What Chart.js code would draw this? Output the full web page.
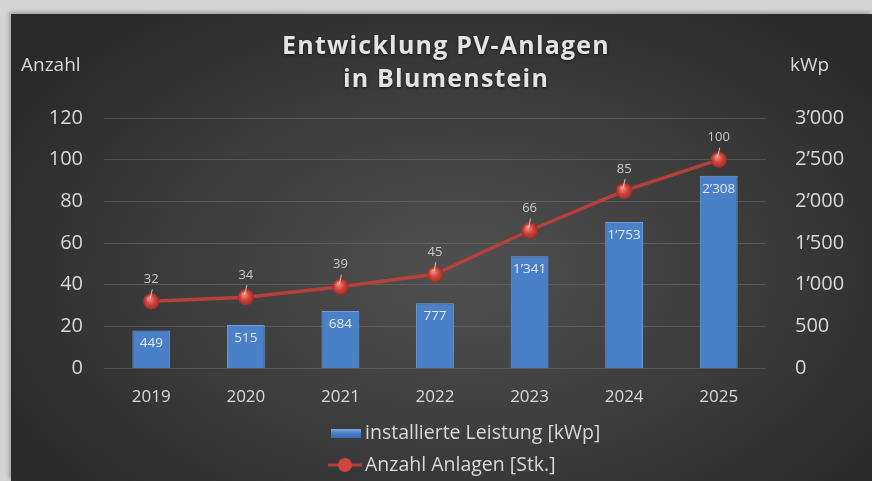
<!DOCTYPE html>
<html>
<head>
<meta charset="utf-8">
<script src="https://cdn.jsdelivr.net/npm/chart.js@4/dist/chart.umd.min.js"></script>
<style>
    html, body { margin: 0; padding: 0; }
    body { width: 872px; height: 481px; background: #d4d4d4; position: relative; overflow: hidden; }
    #panel {
        position: absolute; left: 11px; top: 14px; width: 861px; height: 467px;
        background: radial-gradient(ellipse 60% 70% at 52% 55%, #505050 0%, #3c3c3c 55%, #2a2a2a 100%);
        box-shadow: -2px -2px 4px rgba(0,0,0,0.25);
    }
    #wrap { position: absolute; left: 0; top: 0; width: 872px; height: 481px; }
</style>
</head>
<body>
<div id="panel"></div>
<div id="wrap"><canvas id="myChart" width="872" height="481"></canvas></div>
<script>
var years = ['2019', '2020', '2021', '2022', '2023', '2024', '2025'];
var leistung = [449, 515, 684, 777, 1341, 1753, 2308];
var anlagen = [32, 34, 39, 45, 66, 85, 100];
var titleLines = ['Entwicklung PV-Anlagen', 'in Blumenstein'];
var axisLeftTitle = 'Anzahl';
var axisRightTitle = 'kWp';

var textColor = '#d9d9d9';
var fontFamily = "'Open Sans', sans-serif";

function fmt(v) {
    return String(v).replace(/\B(?=(\d{3})+(?!\d))/g, '\u2019');
}

// title, value labels, axis titles and the two-row legend
var extrasPlugin = {
    id: 'extras',
    afterDatasetsDraw: function (chart) {
        var ctx = chart.ctx;
        ctx.save();

        // title
        ctx.fillStyle = '#e4e4e4';
        ctx.font = 'bold 25px ' + fontFamily;
        ctx.textAlign = 'center';
        ctx.textBaseline = 'middle';
        ctx.letterSpacing = '1.2px';
        ctx.shadowColor = 'rgba(0,0,0,0.6)';
        ctx.shadowBlur = 3;
        ctx.shadowOffsetY = 1;
        ctx.fillText(titleLines[0], 446, 47);
        ctx.fillText(titleLines[1], 446, 80);
        ctx.letterSpacing = '0px';
        ctx.shadowColor = 'transparent';

        // bar labels, inside end
        var barMeta = chart.getDatasetMeta(0);
        ctx.font = '13.5px ' + fontFamily;
        ctx.fillStyle = '#dfe8f4';
        barMeta.data.forEach(function (bar, i) {
            ctx.fillText(fmt(leistung[i]), bar.x, bar.y + 13);
        });

        // line labels above points, with small leader
        var lineMeta = chart.getDatasetMeta(1);
        lineMeta.data.forEach(function (pt, i) {
            ctx.strokeStyle = 'rgba(230,230,230,0.8)';
            ctx.lineWidth = 1;
            ctx.beginPath();
            ctx.moveTo(pt.x - 1, pt.y - 3);
            ctx.lineTo(pt.x + 1, pt.y - 12);
            ctx.stroke();
            ctx.fillStyle = '#c8c8c8';
            ctx.font = '13px ' + fontFamily;
            ctx.fillText(fmt(anlagen[i]), pt.x, pt.y - 22);
        });

        // axis titles
        ctx.fillStyle = textColor;
        ctx.font = '19px ' + fontFamily;
        ctx.textAlign = 'left';
        ctx.fillText(axisLeftTitle, 21, 66);
        ctx.fillText(axisRightTitle, 790, 66);

        // legend
        var lx = 331;
        var ly1 = 433, ly2 = 465;
        var g = ctx.createLinearGradient(0, ly1 - 5, 0, ly1 + 5);
        g.addColorStop(0, '#8fb8ec');
        g.addColorStop(0.5, '#4a80c8');
        g.addColorStop(1, '#3a6cb0');
        ctx.fillStyle = g;
        ctx.fillRect(lx, ly1 - 4, 30, 9);
        ctx.strokeStyle = '#b5403a';
        ctx.lineWidth = 3;
        ctx.beginPath();
        ctx.moveTo(lx - 3, ly2);
        ctx.lineTo(lx + 31, ly2);
        ctx.stroke();
        ctx.fillStyle = '#cc463e';
        ctx.beginPath();
        ctx.arc(lx + 14, ly2, 7, 0, Math.PI * 2);
        ctx.fill();
        ctx.fillStyle = textColor;
        ctx.font = '19.5px ' + fontFamily;
        ctx.fillText(chart.data.datasets[0].label, lx + 34, ly1);
        ctx.fillText(chart.data.datasets[1].label, lx + 34, ly2);
        ctx.restore();
    }
};

var ctx = document.getElementById('myChart').getContext('2d');

function barFill(context) {
    var el = context.element;
    if (!el || el.width === undefined) return '#4a80c8';
    var x0 = el.x - el.width / 2;
    var g = context.chart.ctx.createLinearGradient(x0, 0, x0 + el.width, 0);
    g.addColorStop(0, '#6399de');
    g.addColorStop(0.12, '#4b82ca');
    g.addColorStop(0.88, '#4b82ca');
    g.addColorStop(1, '#3d70b4');
    return g;
}

function pointFill(context) {
    var el = context.element;
    if (!el || el.x === undefined) return '#c8413a';
    var g = context.chart.ctx.createRadialGradient(el.x - 2, el.y - 3, 1, el.x, el.y, 8);
    g.addColorStop(0, '#f08a80');
    g.addColorStop(0.5, '#cf463d');
    g.addColorStop(1, '#a52d27');
    return g;
}

new Chart(ctx, {
    data: {
        labels: years,
        datasets: [{
            type: 'bar',
            label: 'installierte Leistung [kWp]',
            data: leistung,
            yAxisID: 'y1',
            backgroundColor: barFill,
            borderColor: '#6d9fe0',
            borderWidth: 1,
            barPercentage: 0.4,
            categoryPercentage: 1,
            order: 2
        }, {
            type: 'line',
            label: 'Anzahl Anlagen [Stk.]',
            data: anlagen,
            yAxisID: 'y',
            borderColor: '#b8403a',
            borderWidth: 3.5,
            pointRadius: 8,
            pointBackgroundColor: pointFill,
            pointBorderColor: '#9e2e28',
            pointBorderWidth: 0.5,
            tension: 0,
            order: 1
        }]
    },
    options: {
        responsive: false,
        animation: false,
        events: [],
        layout: { padding: { left: 11, top: 118, right: 0, bottom: 0 } },
        plugins: {
            legend: { display: false },
            tooltip: { enabled: false },
            title: { display: false }
        },
        scales: {
            x: {
                grid: { display: false },
                border: { display: false },
                ticks: { color: textColor, font: { family: fontFamily, size: 17 }, padding: 11 },
                afterFit: function (scale) { scale.height = 113; }
            },
            y: {
                position: 'left',
                min: 0,
                max: 120,
                grid: { color: 'rgba(120,120,120,0.45)', lineWidth: 1, drawTicks: false },
                border: { display: false },
                ticks: { stepSize: 20, color: textColor, font: { family: fontFamily, size: 20 }, padding: 21 },
                afterFit: function (scale) { scale.width = 93; }
            },
            y1: {
                position: 'right',
                min: 0,
                max: 3000,
                grid: { display: false },
                border: { display: false },
                ticks: {
                    stepSize: 500,
                    color: textColor,
                    font: { family: fontFamily, size: 20 },
                    padding: 21,
                    callback: function (v) { return fmt(v); }
                },
                afterFit: function (scale) { scale.width = 106; }
            }
        }
    },
    plugins: [extrasPlugin]
});
</script>
</body>
</html>
